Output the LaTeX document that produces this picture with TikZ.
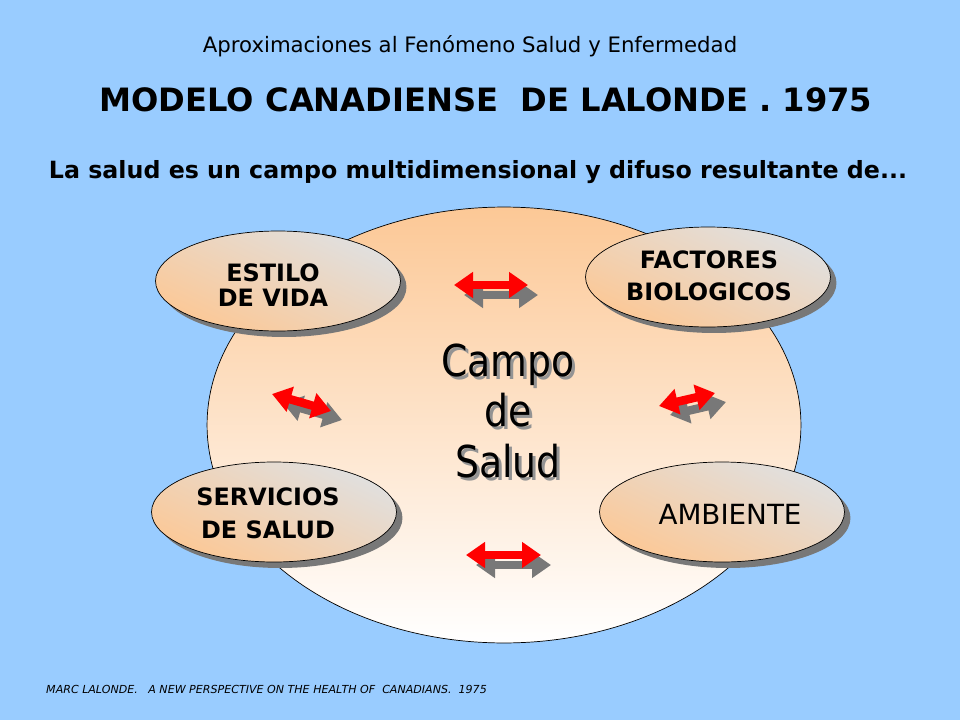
\documentclass[tikz,border=0pt]{standalone}
\usepackage{fontspec}
\setmainfont{DejaVu Sans}
\newfontfamily\campofont[FakeStretch=0.86]{DejaVu Sans}
\usetikzlibrary{positioning,shapes.geometric,arrows.meta,shadows}
\definecolor{skyblue}{RGB}{153,204,255}
\definecolor{peach}{RGB}{252,200,150}
\definecolor{gray85}{RGB}{224,224,224}
\definecolor{gray5}{RGB}{120,120,120}

\begin{document}
\begin{tikzpicture}
[x=0.02cm,y=-0.02cm,align=center]
\tikzstyle{campo}=[ellipse,draw,top color=peach,bottom color=white,minimum width=11.88cm,minimum height=8.72cm,inner sep=0pt]
\tikzstyle{factor}=[ellipse,draw,top color=gray85,bottom color=peach,shading angle=-25,minimum width=4.9cm,minimum height=2cm,inner sep=0pt,
  drop shadow={shadow xshift=0.12cm,shadow yshift=-0.12cm,fill=gray5,opacity=1}]
\tikzstyle{flecha}=[red,line width=0.17cm,{Triangle[width=0.5cm,length=0.38cm]}-{Triangle[width=0.5cm,length=0.38cm]}]
\tikzstyle{sombra}=[gray5,line width=0.17cm,{Triangle[width=0.5cm,length=0.38cm]}-{Triangle[width=0.5cm,length=0.38cm]}]
\tikzstyle{grande}=[font=\campofont\fontsize{25}{29}\selectfont]
\tikzstyle{texto}=[font=\fontsize{13.6}{15}\selectfont\bfseries]

\fill [skyblue] (0,0) rectangle (960,720);

\draw node at (470,46) (sub) {\fontsize{12.1}{14}\selectfont Aproximaciones al Fenómeno Salud y Enfermedad};
\draw node at (486,100) (titulo) {\fontsize{18.3}{21}\selectfont\bfseries MODELO CANADIENSE\ \ DE LALONDE . 1975};
\draw node at (478,172) (lema) {\fontsize{13.5}{16}\selectfont\bfseries La salud es un campo multidimensional y difuso resultante de...};

\draw node [campo] at (504,425) (campo) {};

\draw node [factor] at (278,281) (estilo) {};
\draw node [factor] at (708,277) (bio) {};
\draw node [factor] at (274,512) (serv) {};
\draw node [factor] at (722,512) (amb) {};

\draw node [texto,font=\fontsize{13.6}{14.2}\selectfont\bfseries] at (273,285) (estiloT) {ESTILO\\DE VIDA};
\draw node [texto,font=\fontsize{13.6}{18}\selectfont\bfseries] at (709,276) (bioT) {FACTORES\\BIOLOGICOS};
\draw node [texto,font=\fontsize{13.6}{18.6}\selectfont\bfseries] at (268,513) (servT) {SERVICIOS\\DE SALUD};
\draw node [font=\fontsize{15.8}{18}\selectfont] at (730,514) (ambT) {AMBIENTE};

\draw node [grande,gray5!80] at (511,414) (saludS) {Campo\\de\\Salud};
\draw node [grande] at (508,411) (salud) {Campo\\de\\Salud};

% flechas entre factores
\coordinate (a1) at (454,285); \coordinate (a2) at (528,285);
\coordinate (b1) at (466,555); \coordinate (b2) at (541,555);
\coordinate (c1) at (272,394); \coordinate (c2) at (331,411);
\coordinate (d1) at (659,406); \coordinate (d2) at (715,393);

\draw [sombra] ([shift={(10,10)}]a1) -- ([shift={(10,10)}]a2);
\draw [sombra] ([shift={(10,10)}]b1) -- ([shift={(10,10)}]b2);
\draw [sombra] ([shift={(11,9)}]c1) -- ([shift={(11,9)}]c2);
\draw [sombra] ([shift={(11,9)}]d1) -- ([shift={(11,9)}]d2);
\draw [flecha] (a1) -- (a2);
\draw [flecha] (b1) -- (b2);
\draw [flecha] (c1) -- (c2);
\draw [flecha] (d1) -- (d2);

\draw node [anchor=west] at (40,689) (ref) {\fontsize{6.3}{7}\selectfont\itshape MARC LALONDE.\ \ \ A NEW PERSPECTIVE ON THE HEALTH OF\ \ CANADIANS.\ \ 1975};

\end{tikzpicture}
\end{document}
